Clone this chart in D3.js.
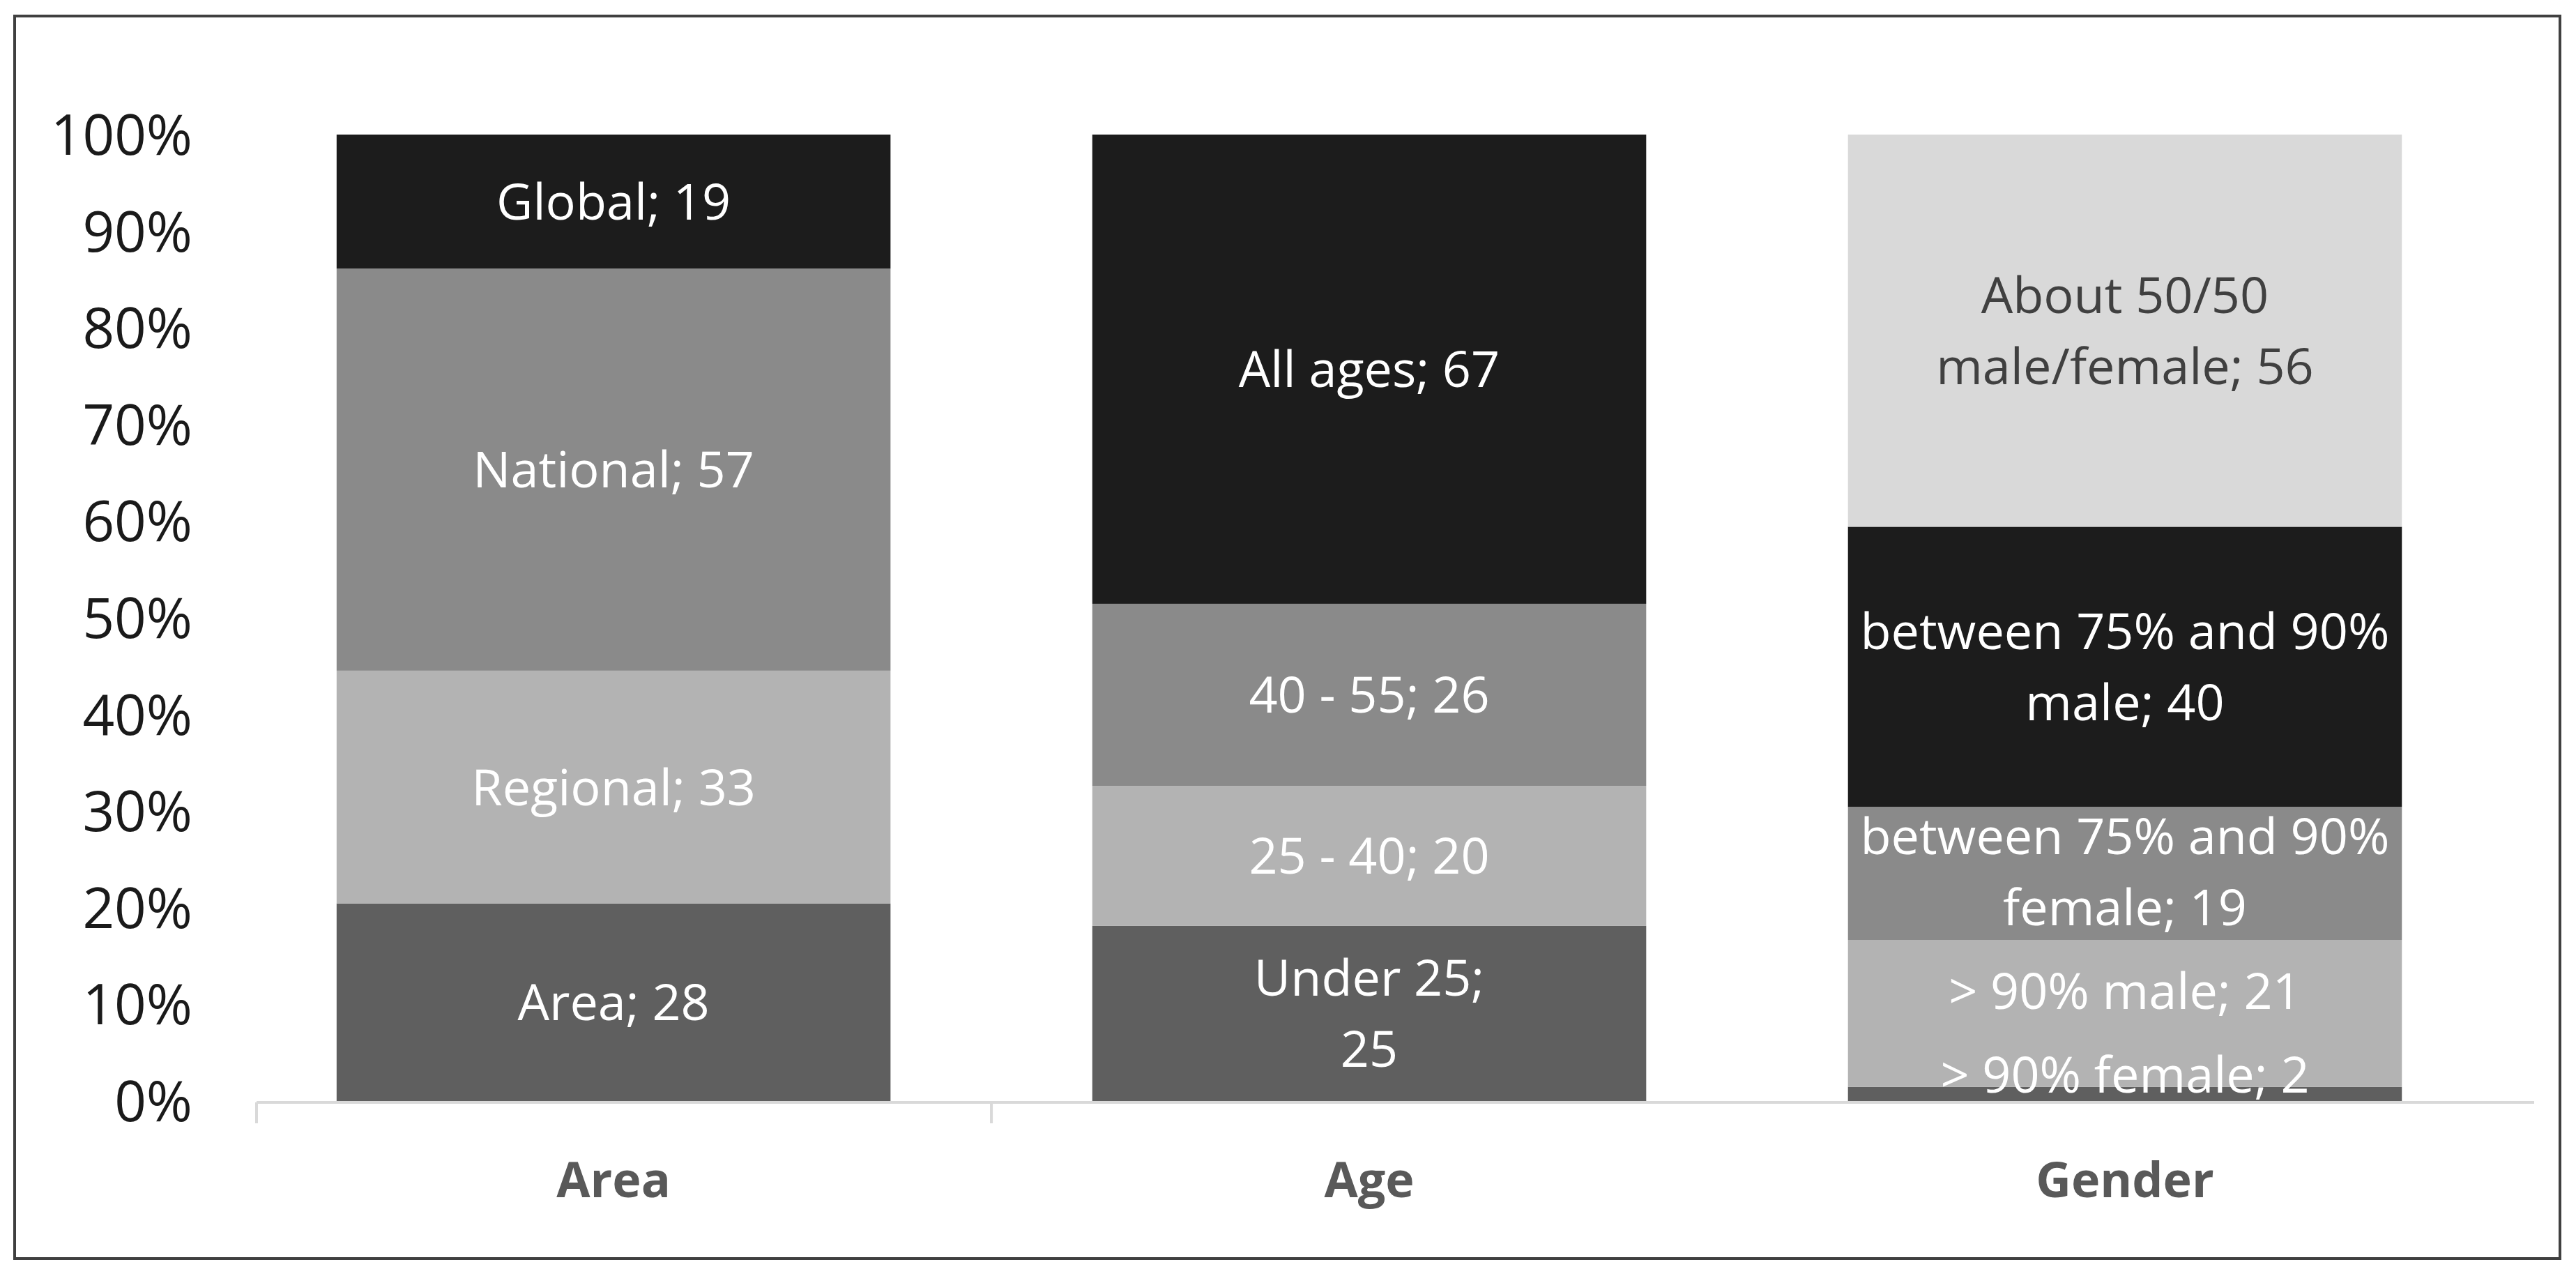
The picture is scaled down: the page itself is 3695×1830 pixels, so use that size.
<!DOCTYPE html>
<html>
<head>
<meta charset="utf-8">
<script src="https://cdn.jsdelivr.net/npm/d3@7"></script>
<style>
  body { margin: 0; background: #fff; }
  text { font-family: "Open Sans", "Noto Sans", sans-serif; }
</style>
</head>
<body>
<svg class="svg-chart"></svg>
<script>
// 100% stacked bars, counts per group
var categories = ["Area", "Age", "Gender"];

var areaNames  = ["Area", "Regional", "National", "Global"];
var areaValues = [28, 33, 57, 19];

var ageNames  = ["Under 25", "25 - 40", "40 - 55", "All ages"];
var ageValues = [25, 20, 26, 67];

var genderNames  = ["> 90% female", "> 90% male", "between 75% and 90%\nfemale",
                    "between 75% and 90%\nmale", "About 50/50\nmale/female"];
var genderValues = [2, 21, 19, 40, 56];

var yTicks = [0, 0.1, 0.2, 0.3, 0.4, 0.5, 0.6, 0.7, 0.8, 0.9, 1];

// labels that put the value on its own line
var valueOnNewLine = ["Under 25"];

var W = 3695, H = 1830;
var fills = ["#5f5f5f", "#b3b3b3", "#8a8a8a", "#1c1c1c", "#d9d9d9"];
var labelFills = ["#ffffff", "#ffffff", "#ffffff", "#ffffff", "#404040"];

var svg = d3.select(".svg-chart")
    .attr("width", W)
    .attr("height", H);

// outer frame
svg.append("rect")
    .attr("x", 21).attr("y", 23)
    .attr("width", 3651).attr("height", 1782)
    .style("fill", "none")
    .style("stroke", "#404040")
    .style("stroke-width", 4);

var x = d3.scaleBand()
    .domain(categories)
    .range([368, 3635])
    .paddingInner(0.267)
    .paddingOuter(0.1405)
    .align(0.377);

var y = d3.scaleLinear()
    .domain([0, 1])
    .range([1579, 193]);

var names = [areaNames, ageNames, genderNames];
var values = [areaValues, ageValues, genderValues];

var segments = [];
categories.forEach(function(cat, ci) {
  var vals = values[ci];
  var total = d3.sum(vals);
  var ends = d3.cumsum(vals);
  vals.forEach(function(v, i) {
    segments.push({
      cat: cat, i: i, name: names[ci][i], value: v,
      y0: (ends[i] - v) / total, y1: ends[i] / total
    });
  });
});

// bars
svg.append("g").selectAll("rect")
    .data(segments)
    .enter().append("rect")
    .attr("x", function(d) { return x(d.cat); })
    .attr("width", x.bandwidth())
    .attr("y", function(d) { return y(d.y1); })
    .attr("height", function(d) { return y(d.y0) - y(d.y1); })
    .style("fill", function(d) { return fills[d.i]; });

// x axis line with ticks
var axisY = y(0) + 2;
var xa = svg.append("g");
xa.append("line")
    .attr("x1", x.range()[0]).attr("x2", x.range()[1])
    .attr("y1", axisY).attr("y2", axisY)
    .style("stroke", "#d9d9d9").style("stroke-width", 4);
var tickXs = [x.range()[0], x("Age") - x.step() * x.paddingInner() / 2];
xa.selectAll(".xtick")
    .data(tickXs)
    .enter().append("line")
    .attr("x1", function(d) { return d; }).attr("x2", function(d) { return d; })
    .attr("y1", axisY).attr("y2", axisY + 30)
    .style("stroke", "#d9d9d9").style("stroke-width", 4);

// category labels
var xAxis = d3.axisBottom(x).tickSize(0).tickPadding(86);
var xg = svg.append("g")
    .attr("transform", "translate(0," + axisY + ")")
    .call(xAxis);
xg.select(".domain").remove();
xg.selectAll("text")
    .style("font-family", "'Open Sans', sans-serif")
    .style("font-size", "70px")
    .style("font-weight", "bold")
    .style("fill", "#595959");

// y axis labels
var yAxis = d3.axisLeft(y)
    .tickValues(yTicks)
    .tickFormat(d3.format(".0%"))
    .tickSize(0)
    .tickPadding(0);
var yg = svg.append("g")
    .attr("transform", "translate(276,0)")
    .call(yAxis);
yg.select(".domain").remove();
yg.selectAll("text")
    .attr("dy", "0.357em")
    .style("font-family", "'Open Sans', sans-serif")
    .style("font-size", "80px")
    .style("fill", "#1a1a1a");

// data labels, centred in their segment but kept inside the plot
// and pushed up when they would hit the label below
var lineGap = 102, minGap = 120;
segments.forEach(function(d) {
  var sep = valueOnNewLine.indexOf(d.name) >= 0 ? ";\n" : "; ";
  d.lines = (d.name + sep + d.value).split("\n");
  d.cy = (y(d.y0) + y(d.y1)) / 2;
});
categories.forEach(function(cat) {
  var below = null;
  segments.filter(function(d) { return d.cat === cat; }).forEach(function(d) {
    var halfSpan = (d.lines.length - 1) / 2 * lineGap;
    d.cy = Math.min(d.cy, y(0) - halfSpan - 38);
    if (below) {
      var limit = below.cy - (below.lines.length - 1) / 2 * lineGap - minGap - halfSpan;
      d.cy = Math.min(d.cy, limit);
    }
    below = d;
  });
});

var labels = svg.append("g").selectAll("text")
    .data(segments)
    .enter().append("text")
    .attr("text-anchor", "middle")
    .style("font-size", "72px")
    .style("fill", function(d) { return labelFills[d.i]; });

labels.each(function(d) {
  var cx = x(d.cat) + x.bandwidth() / 2;
  var t = d3.select(this);
  d.lines.forEach(function(line, k) {
    t.append("tspan")
      .attr("x", cx)
      .attr("y", d.cy + (k - (d.lines.length - 1) / 2) * lineGap)
      .attr("dy", "0.357em")
      .text(line);
  });
});
</script>
</body>
</html>
